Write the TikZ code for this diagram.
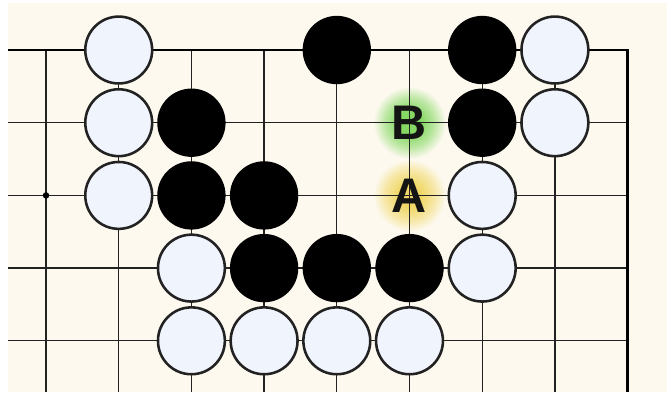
\documentclass[tikz,border=0pt]{standalone}
\usepackage{fontspec}
\setsansfont{Liberation Sans}
\usetikzlibrary{positioning}

\definecolor{board}{HTML}{FDF9EF}
\definecolor{whitestone}{HTML}{F0F4FD}
\definecolor{gridline}{HTML}{222222}
\definecolor{glowg}{HTML}{86D864}
\definecolor{glowy}{HTML}{F0D868}
\pgfdeclareradialshading{glowgreen}{\pgfpointorigin}{color(0bp)=(glowg); color(8bp)=(glowg); color(17bp)=(glowg!55!board); color(25bp)=(board); color(50bp)=(board)}
\pgfdeclareradialshading{glowyellow}{\pgfpointorigin}{color(0bp)=(glowy); color(8bp)=(glowy); color(17bp)=(glowy!55!board); color(25bp)=(board); color(50bp)=(board)}

\begin{document}
\begin{tikzpicture}[
  line/.style={draw=gridline, line width=0.5pt},
  edge/.style={draw=black, line width=1pt},
  wstone/.style={circle, draw=gridline, line width=1pt, fill=whitestone,
                 minimum size=0.92cm, inner sep=0pt},
  bstone/.style={circle, fill=black, minimum size=0.94cm, inner sep=0pt},
  pointlabel/.style={font=\fontsize{19}{19}\selectfont\sffamily\bfseries, text=black!92}
]
  \useasboundingbox (-0.633,0.688) rectangle (8.542,-4.732);
  % board
  \fill[board] (-0.52,0.64) rectangle (8.542,-4.70);
  % glows for the marked points
  \shade[shading=glowgreen] (5,-1) circle (0.5);
  \shade[shading=glowyellow] (5,-2) circle (0.5);
  % grid
  \foreach \r in {1,...,4}
    \draw[line] (-0.52,-\r) -- (8,-\r);
  \foreach \c in {0,...,7}
    \draw[line] (\c,0) -- (\c,-4.70);
  \draw[edge] (-0.52,0) -- (8,0) -- (8,-4.70);
  \fill[black] (0,-2) circle (0.045);
  % stones
  \foreach \c/\r in {1/0,7/0,1/1,7/1,1/2,6/2,2/3,6/3,2/4,3/4,4/4,5/4}
    \node[wstone] (w-\c-\r) at (\c,-\r) {};
  \foreach \c/\r in {4/0,6/0,2/1,6/1,2/2,3/2,3/3,4/3,5/3}
    \node[bstone] (b-\c-\r) at (\c,-\r) {};
  % labels on the empty points
  \node[pointlabel] (ptB) at (5,-1) {B};
  \node[pointlabel] (ptA) at (5,-2) {A};
\end{tikzpicture}
\end{document}
